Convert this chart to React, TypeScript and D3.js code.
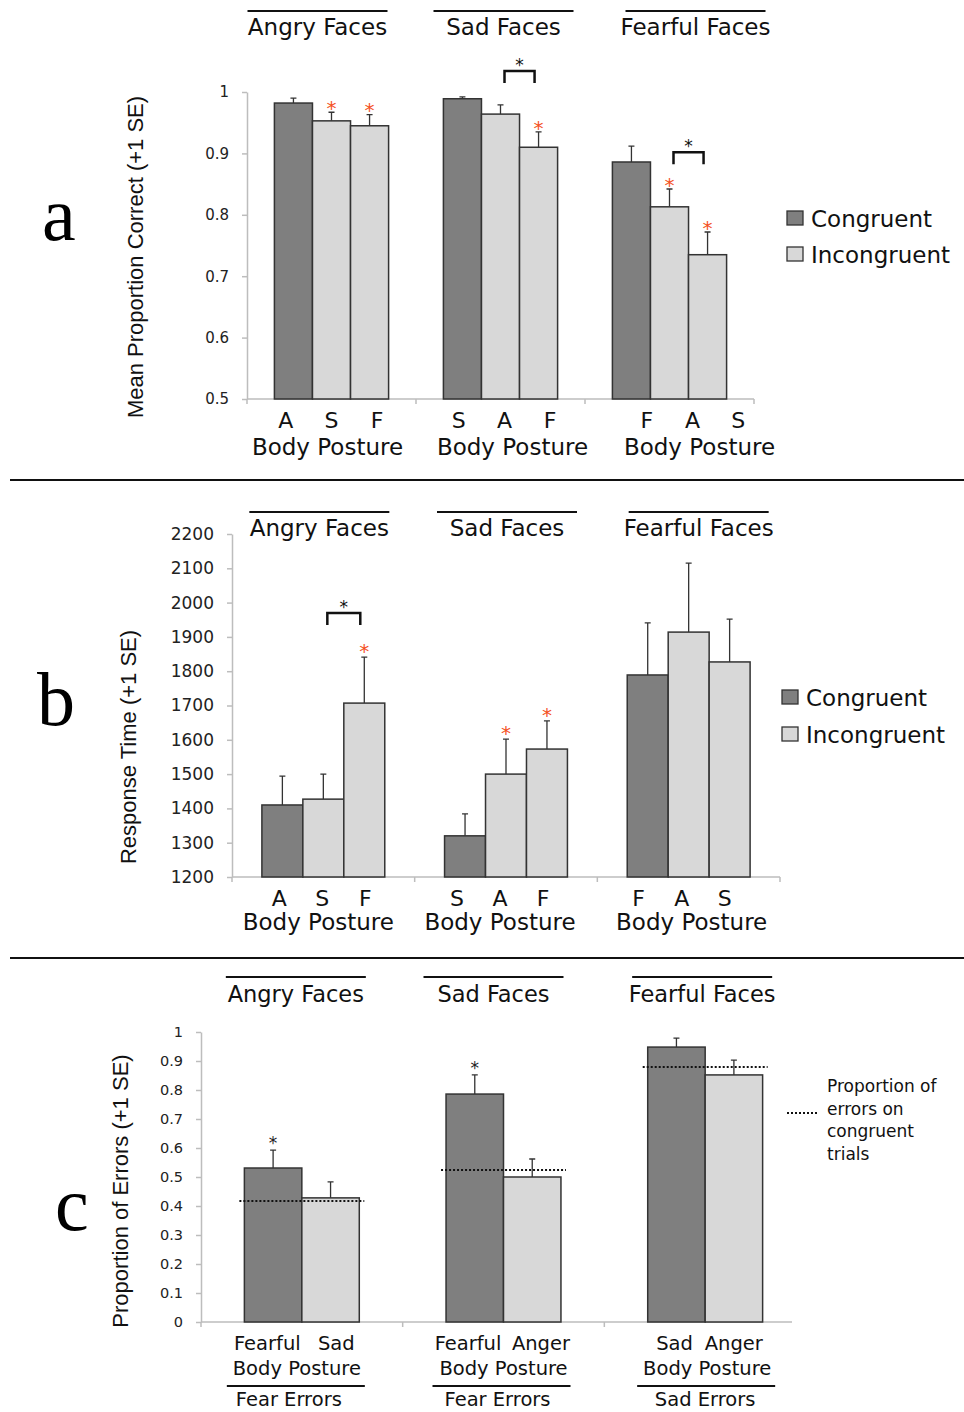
import React, { useRef, useEffect } from 'react';
import * as d3 from 'd3';

// ---- data ----
const faceTitles = ['Angry Faces', 'Sad Faces', 'Fearful Faces'];
const legendLabels = ['Congruent', 'Incongruent'];

// a: accuracy
const accuracyPostures = [['A', 'S', 'F'], ['S', 'A', 'F'], ['F', 'A', 'S']];
const accuracyMeans = [[0.982, 0.953, 0.945], [0.989, 0.964, 0.910], [0.886, 0.813, 0.735]];
const accuracySE = [[0.008, 0.014, 0.018], [0.003, 0.015, 0.025], [0.026, 0.029, 0.037]];
const accuracyTicks = [0.5, 0.6, 0.7, 0.8, 0.9, 1];
const accuracyStars = [[0, 1], [0, 2], [1, 2], [2, 1], [2, 2]];
const accuracyBrackets = [[1, 1, 2, 1.034], [2, 1, 2, 0.902]];

// b: response time
const rtPostures = [['A', 'S', 'F'], ['S', 'A', 'F'], ['F', 'A', 'S']];
const rtMeans = [[1410, 1427, 1707], [1320, 1500, 1573], [1789, 1914, 1827]];
const rtSE = [[84, 73, 134], [64, 102, 82], [152, 201, 125]];
const rtTicks = [1200, 1300, 1400, 1500, 1600, 1700, 1800, 1900, 2000, 2100, 2200];
const rtStars = [[0, 2], [1, 1], [1, 2]];
const rtBrackets = [[0, 1, 2, 1970]];

// c: errors
const errorPostures = [['Fearful', 'Sad'], ['Fearful', 'Anger'], ['Sad', 'Anger']];
const errorMeans = [[0.531, 0.428], [0.786, 0.500], [0.948, 0.852]];
const errorSE = [[0.062, 0.055], [0.066, 0.062], [0.031, 0.051]];
const errorCongruent = [0.417, 0.524, 0.879];
const errorTicks = [0, 0.1, 0.2, 0.3, 0.4, 0.5, 0.6, 0.7, 0.8, 0.9, 1];
const errorStars = [[0, 0], [1, 0]];
const errorTypes = ['Fear Errors', 'Fear Errors', 'Sad Errors'];
const congruentNote = ['Proportion of', 'errors on', 'congruent', 'trials'];

const SANS = '"DejaVu Sans", sans-serif';
const TITLE = '"Liberation Sans", Arial, sans-serif';
const DARK = '#7f7f7f';
const LIGHT = '#d8d8d8';
const AXIS = '#bdbdbd';
const RED = '#f4511e';

const panels = [
    {
        letter: 'a', letterX: 42, letterY: 240,
        left: 247, right: 754, axisEnd: 754, top: 92, bottom: 399, domain: [0.5, 1],
        ticks: accuracyTicks, fmt: d3.format('~g'), tickFont: 15,
        means: accuracyMeans, se: accuracySE, postures: accuracyPostures, outer: 0.72,
        stars: accuracyStars, starColor: RED, starGap: 8, starFont: 20, brackets: accuracyBrackets,
        titleShift: [-14, 3, 26], titleY: 35, titleLineY: 11, titleFont: 23,
        labelK: [1.2, 1.2, 1.2], labelShift: [0, 4, 23], labelY: 428, labelFont: 22,
        postureShift: [-4, 12, 30], postureY: 455, postureFont: 23,
        yTitle: 'Mean Proportion Correct (+1 SE)', yTitleX: 135, yTitleY: 257,
        legendX: 787, legendY: [227, 263],
    },
    {
        letter: 'b', letterX: 37, letterY: 725,
        left: 232, right: 780, axisEnd: 780, top: 534, bottom: 877, domain: [1200, 2200],
        ticks: rtTicks, fmt: d3.format('d'), tickFont: 17,
        means: rtMeans, se: rtSE, postures: rtPostures, outer: 0.73,
        stars: rtStars, starColor: RED, starGap: 10, starFont: 20, brackets: rtBrackets,
        titleShift: [-4, 1, 10], titleY: 536, titleLineY: 512, titleFont: 23,
        labelK: [1.05, 1.05, 1.05], labelShift: [-1, -6, -7], labelY: 906, labelFont: 22,
        postureShift: [-5, -6, 3], postureY: 930, postureFont: 23,
        yTitle: 'Response Time (+1 SE)', yTitleX: 128, yTitleY: 747,
        legendX: 782, legendY: [706, 743],
    },
    {
        letter: 'c', letterX: 55, letterY: 1230,
        left: 201, right: 806, axisEnd: 792, top: 1032, bottom: 1322, domain: [0, 1],
        ticks: errorTicks, fmt: d3.format('~g'), tickFont: 14.5,
        means: errorMeans, se: errorSE, postures: errorPostures, outer: 0.755,
        stars: errorStars, starColor: '#222', starGap: 10, starFont: 17, brackets: [],
        titleShift: [-6, -10, -3], titleY: 1002, titleLineY: 977, titleFont: 22.5,
        labelK: [1.2, 1.27, 1.03], labelShift: [0, 1, -1], labelY: 1350, labelFont: 19.5,
        postureShift: [-5, 0, 2], postureY: 1375, postureFont: 19.5,
        yTitle: 'Proportion of Errors (+1 SE)', yTitleX: 120, yTitleY: 1191,
        congruent: errorCongruent, types: errorTypes,
    },
];

function drawPanel(svg, p) {
    const g = svg.append('g');
    const y = d3.scaleLinear().domain(p.domain).range([p.bottom, p.top]);
    const groups = d3.scaleBand().domain(d3.range(3)).range([p.left, p.right]);
    const bw = groups.bandwidth();
    const nb = p.means[0].length;
    const inner = d3.scaleBand().domain(d3.range(nb)).range([0, bw]).paddingInner(0).paddingOuter(p.outer);
    const barX = (gi, bi) => groups(gi) + inner(bi);
    const barC = (gi, bi) => barX(gi, bi) + inner.bandwidth() / 2;
    const gC = (gi) => groups(gi) + bw / 2;

    // panel letter
    g.append('text')
        .attr('x', p.letterX).attr('y', p.letterY)
        .attr('font-family', '"Liberation Serif", serif')
        .attr('font-size', 76)
        .text(p.letter);

    // y axis
    const yAxis = d3.axisLeft(y).tickValues(p.ticks).tickSize(5).tickSizeOuter(0).tickPadding(13).tickFormat(p.fmt);
    const ya = g.append('g').attr('transform', `translate(${p.left},0)`).call(yAxis);
    ya.select('.domain').attr('stroke', AXIS).attr('stroke-width', 1.5);
    ya.selectAll('.tick line').attr('stroke', AXIS).attr('stroke-width', 1.5);
    ya.selectAll('.tick text')
        .attr('font-family', SANS)
        .attr('font-size', p.tickFont)
        .attr('fill', '#222');

    // x axis
    g.append('line')
        .attr('x1', p.left).attr('x2', p.axisEnd)
        .attr('y1', p.bottom).attr('y2', p.bottom)
        .attr('stroke', AXIS).attr('stroke-width', 1.5);
    const xt = d3.range(3).map((i) => groups(i)).concat(p.axisEnd === p.right ? [p.right] : []);
    g.selectAll('.xtick').data(xt).enter().append('line')
        .attr('x1', (d) => d).attr('x2', (d) => d)
        .attr('y1', p.bottom).attr('y2', p.bottom + 5)
        .attr('stroke', AXIS).attr('stroke-width', 1.5);

    // y title
    g.append('text')
        .attr('transform', `translate(${p.yTitleX},${p.yTitleY}) rotate(-90)`)
        .attr('text-anchor', 'middle')
        .attr('dy', '0.35em')
        .attr('font-family', TITLE)
        .attr('font-size', 22)
        .attr('fill', '#111')
        .text(p.yTitle);

    // bars
    const bars = [];
    p.means.forEach((row, gi) => row.forEach((v, bi) => bars.push({ gi, bi, v, se: p.se[gi][bi] })));

    g.selectAll('.err').data(bars).enter().append('path')
        .attr('d', (d) => {
            const x = barC(d.gi, d.bi);
            const t = y(d.v + d.se);
            return `M${x},${y(d.v)}V${t}M${x - 3},${t}H${x + 3}`;
        })
        .attr('stroke', '#333').attr('stroke-width', 1.3).attr('fill', 'none');

    g.selectAll('.bar').data(bars).enter().append('rect')
        .attr('x', (d) => barX(d.gi, d.bi))
        .attr('y', (d) => y(d.v))
        .attr('width', inner.bandwidth())
        .attr('height', (d) => p.bottom - y(d.v))
        .attr('fill', (d) => (d.bi === 0 ? DARK : LIGHT))
        .attr('stroke', '#333')
        .attr('stroke-width', 1.5);

    // asterisks
    g.selectAll('.star').data(p.stars).enter().append('text')
        .attr('x', (d) => barC(d[0], d[1]))
        .attr('y', (d) => y(p.means[d[0]][d[1]] + p.se[d[0]][d[1]]) - p.starGap + p.starFont * 0.53)
        .attr('text-anchor', 'middle')
        .attr('font-family', SANS)
        .attr('font-size', p.starFont)
        .attr('fill', p.starColor)
        .text('*');

    // brackets
    p.brackets.forEach(([gi, b1, b2, lvl]) => {
        const x1 = barC(gi, b1) + 4;
        const x2 = barC(gi, b2) - 4;
        const yb = y(lvl);
        g.append('path')
            .attr('d', `M${x1},${yb + 12}V${yb}H${x2}V${yb + 12}`)
            .attr('stroke', '#111').attr('stroke-width', 2.5).attr('fill', 'none');
        g.append('text')
            .attr('x', (x1 + x2) / 2).attr('y', yb)
            .attr('text-anchor', 'middle')
            .attr('font-family', SANS).attr('font-size', 17)
            .attr('fill', '#111')
            .text('*');
    });

    // congruent reference lines
    if (p.congruent) {
        g.selectAll('.cong').data(p.congruent).enter().append('line')
            .attr('x1', (d, i) => barX(i, 0) - 5)
            .attr('x2', (d, i) => barX(i, nb - 1) + inner.bandwidth() + 5)
            .attr('y1', (d) => y(d)).attr('y2', (d) => y(d))
            .attr('stroke', '#111').attr('stroke-width', 2).attr('stroke-dasharray', '2 2');
    }

    // group titles with overline
    faceTitles.forEach((t, gi) => {
        const cx = gC(gi) + p.titleShift[gi];
        g.append('line')
            .attr('x1', cx - 70).attr('x2', cx + 70)
            .attr('y1', p.titleLineY).attr('y2', p.titleLineY)
            .attr('stroke', '#111').attr('stroke-width', 2);
        g.append('text')
            .attr('x', cx).attr('y', p.titleY)
            .attr('text-anchor', 'middle')
            .attr('font-family', SANS).attr('font-size', p.titleFont)
            .attr('fill', '#111')
            .text(t);
    });

    // posture labels
    p.postures.forEach((row, gi) => {
        row.forEach((lab, bi) => {
            g.append('text')
                .attr('x', gC(gi) + p.labelShift[gi] + (barC(gi, bi) - gC(gi)) * p.labelK[gi])
                .attr('y', p.labelY)
                .attr('text-anchor', 'middle')
                .attr('font-family', SANS).attr('font-size', p.labelFont)
                .attr('fill', '#111')
                .text(lab);
        });
        g.append('text')
            .attr('x', gC(gi) + p.postureShift[gi]).attr('y', p.postureY)
            .attr('text-anchor', 'middle')
            .attr('font-family', SANS).attr('font-size', p.postureFont)
            .attr('fill', '#111')
            .text('Body Posture');
    });

    // error type labels (panel c)
    if (p.types) {
        p.types.forEach((t, gi) => {
            const cx = gC(gi) + [-6, -2, 1][gi];
            g.append('line')
                .attr('x1', cx - 69).attr('x2', cx + 69)
                .attr('y1', 1386).attr('y2', 1386)
                .attr('stroke', '#111').attr('stroke-width', 2);
            g.append('text')
                .attr('x', gC(gi) + [-13, -6, 0][gi]).attr('y', 1406)
                .attr('text-anchor', 'middle')
                .attr('font-family', SANS).attr('font-size', 19.5)
                .attr('fill', '#111')
                .text(t);
        });

        g.append('line')
            .attr('x1', 787).attr('x2', 817).attr('y1', 1113).attr('y2', 1113)
            .attr('stroke', '#111').attr('stroke-width', 2).attr('stroke-dasharray', '2 2');
        g.selectAll('.note').data(congruentNote).enter().append('text')
            .attr('x', 827)
            .attr('y', (d, i) => 1092 + i * 22.5)
            .attr('font-family', SANS).attr('font-size', 17)
            .attr('fill', '#111')
            .text((d) => d);
    }

    // legend
    if (p.legendY) {
        legendLabels.forEach((lab, i) => {
            g.append('rect')
                .attr('x', p.legendX).attr('y', p.legendY[i] - 16)
                .attr('width', 16).attr('height', 14)
                .attr('fill', i === 0 ? DARK : LIGHT)
                .attr('stroke', '#333').attr('stroke-width', 1.3);
            g.append('text')
                .attr('x', p.legendX + 24).attr('y', p.legendY[i])
                .attr('font-family', SANS).attr('font-size', 23)
                .attr('fill', '#111')
                .text(lab);
        });
    }
}

function App() {
    const ref = useRef(null);

    useEffect(() => {
        const svg = d3.select(ref.current);
        svg.selectAll('*').remove();

        // dividers
        svg.selectAll('.divider').data([480, 958]).enter().append('line')
            .attr('x1', 10).attr('x2', 964)
            .attr('y1', (d) => d).attr('y2', (d) => d)
            .attr('stroke', '#111').attr('stroke-width', 2.2);

        panels.forEach((p) => drawPanel(svg, p));
    }, []);

    return (
        <svg
            ref={ref}
            width={964}
            height={1412}
            style={{ position: 'absolute', left: 0, top: 0, background: '#fff' }}
        />
    );
}

export default App;
